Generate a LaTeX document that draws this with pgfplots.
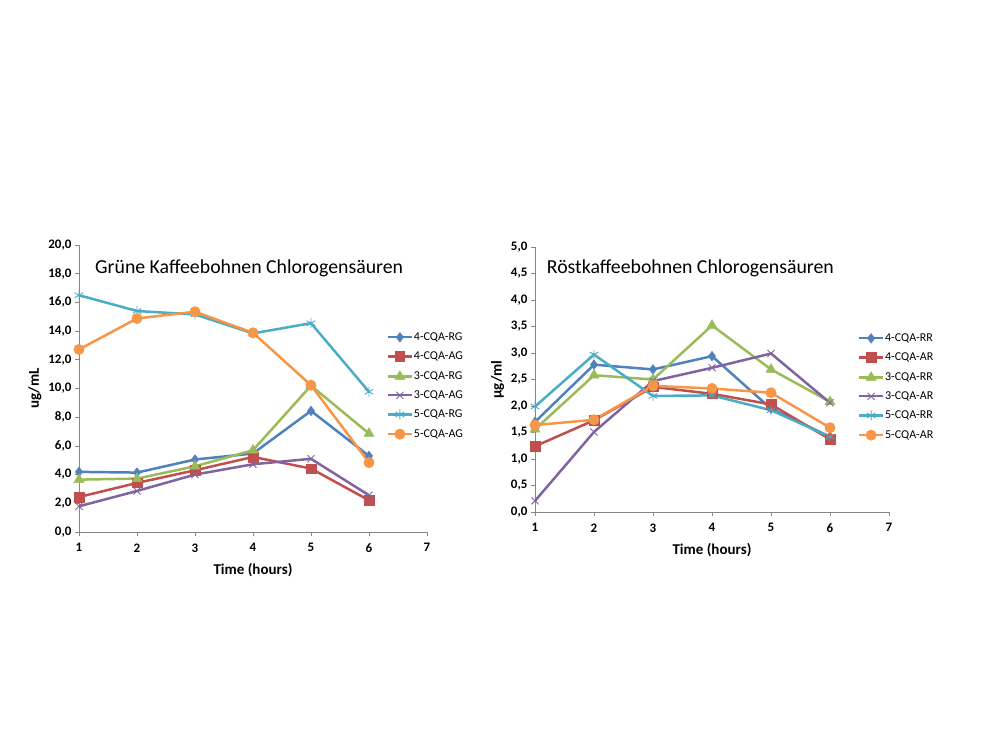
\documentclass[border=0pt]{standalone}
\usepackage{fontspec}
\setmainfont{Carlito}
\usepackage{pgfplots}
\pgfplotsset{compat=1.18}
\definecolor{cBlue}{HTML}{4F81BD}
\definecolor{cRed}{HTML}{C0504D}
\definecolor{cGreen}{HTML}{9BBB59}
\definecolor{cPurple}{HTML}{8064A2}
\definecolor{cCyan}{HTML}{4BACC6}
\definecolor{cOrange}{HTML}{F79646}
\definecolor{axgray}{HTML}{868686}
\pgfplotsset{
 mystyle/.style={
  scale only axis,
  axis x line=bottom, axis y line=left,
  axis line style={-, draw=axgray, line width=0.8pt},
  xmin=1, xmax=7, xtick={1,...,7},
  tick style={axgray, line width=0.8pt}, tick align=outside, major tick length=4pt,
  ticklabel style={font=\bfseries\fontsize{13}{15}\selectfont},
  /pgf/number format/assume math mode=true,
  yticklabel style={/pgf/number format/.cd, fixed, fixed zerofill, precision=1, use comma},
  xticklabel style={yshift=-4pt, /pgf/number format/.cd, fixed, precision=0},
  label style={font=\bfseries\fontsize{15}{17}\selectfont},
  xlabel style={yshift=-4pt},
  legend cell align=left,
  legend style={draw=none, fill=none, font=\fontsize{12}{14}\selectfont, row sep=9.5pt, inner sep=0pt,
    nodes={inner xsep=1pt, inner ysep=0pt}},
  legend image code/.code={\draw[line width=2.2pt, mark repeat=2,mark phase=2] plot coordinates {(0cm,0cm)(0.42cm,0cm)(0.84cm,0cm)};},
  every axis plot/.append style={line width=2.5pt},
 },
 sA/.style={cBlue, mark=diamond*, mark size=4.8pt, mark options={line width=0.5pt}},
 sB/.style={cRed, mark=square*, mark size=4.8pt, mark options={line width=0.5pt}},
 sC/.style={cGreen, mark=triangle*, mark size=5.8pt, mark options={line width=0.5pt}},
 sD/.style={cPurple, mark=x, mark size=5pt, mark options={line width=0.9pt}},
 sE/.style={cCyan, mark=asterisk, mark size=5pt, mark options={line width=0.9pt}},
 sF/.style={cOrange, mark=*, mark size=5.2pt, mark options={line width=0.5pt}},
}
\begin{document}
\begin{tikzpicture}
\path[use as bounding box] (0pt,0pt) rectangle (1000pt,750pt);
% left chart
\begin{axis}[mystyle, at={(79pt,218pt)}, anchor=south west, width=348pt, height=287pt,
  ymin=0, ymax=20, ytick={0,2,...,20},
  xlabel={Time (hours)}, ylabel={ug/mL},
  legend style={at={(0.884,0.509)}, anchor=west}]
\addplot[sA] coordinates {(1,4.19)(2,4.14)(3,5.05)(4,5.47)(5,8.44)(6,5.3)};
\addplot[sB] coordinates {(1,2.44)(2,3.42)(3,4.3)(4,5.23)(5,4.42)(6,2.21)};
\addplot[sC] coordinates {(1,3.65)(2,3.72)(3,4.58)(4,5.7)(5,10.2)(6,6.86)};
\addplot[sD] coordinates {(1,1.79)(2,2.86)(3,4.0)(4,4.72)(5,5.1)(6,2.56)};
\addplot[sE] coordinates {(1,16.5)(2,15.4)(3,15.16)(4,13.84)(5,14.55)(6,9.77)};
\addplot[sF] coordinates {(1,12.72)(2,14.88)(3,15.35)(4,13.88)(5,10.23)(6,4.84)};
\legend{4-CQA-RG,4-CQA-AG,3-CQA-RG,3-CQA-AG,5-CQA-RG,5-CQA-AG}
\node[font=\fontsize{19.8}{22}\selectfont] at (rel axis cs:0.489,0.92) {Grüne Kaffeebohnen Chlorogensäuren};
\end{axis}
% right chart
\begin{axis}[mystyle, at={(535pt,238pt)}, anchor=south west, width=354pt, height=265pt,
  ymin=0, ymax=5, ytick={0,0.5,...,5},
  xlabel={Time (hours)}, ylabel={µg/ml},
  legend style={at={(0.912,0.472)}, anchor=west}]
\addplot[sA] coordinates {(1,1.7)(2,2.78)(3,2.69)(4,2.94)(5,1.95)(6,1.42)};
\addplot[sB] coordinates {(1,1.24)(2,1.73)(3,2.36)(4,2.23)(5,2.03)(6,1.37)};
\addplot[sC] coordinates {(1,1.56)(2,2.58)(3,2.50)(4,3.52)(5,2.69)(6,2.08)};
\addplot[sD] coordinates {(1,0.21)(2,1.51)(3,2.47)(4,2.72)(5,2.99)(6,2.06)};
\addplot[sE] coordinates {(1,1.99)(2,2.97)(3,2.19)(4,2.20)(5,1.92)(6,1.42)};
\addplot[sF] coordinates {(1,1.64)(2,1.74)(3,2.38)(4,2.33)(5,2.25)(6,1.59)};
\legend{4-CQA-RR,4-CQA-AR,3-CQA-RR,3-CQA-AR,5-CQA-RR,5-CQA-AR}
\node[font=\fontsize{19.8}{22}\selectfont] at (rel axis cs:0.439,0.92) {Röstkaffeebohnen Chlorogensäuren};
\end{axis}
\end{tikzpicture}
\end{document}
